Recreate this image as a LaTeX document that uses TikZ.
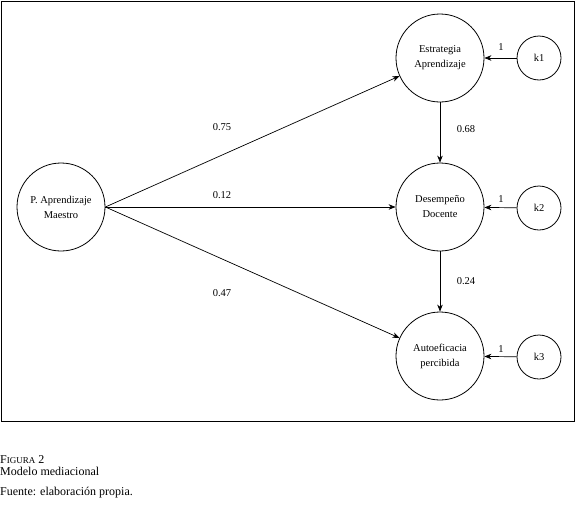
\documentclass[tikz,border=0pt]{standalone}
\usepackage{fontspec}
\setmainfont{Liberation Serif}
\usetikzlibrary{arrows.meta}
\begin{document}
\begin{tikzpicture}[x=1pt,y=-1pt,
  bigc/.style={circle,draw,line width=0.8pt,minimum size=88pt,inner sep=0pt,align=center,font=\fontsize{10.5}{15}\selectfont},
  smallc/.style={circle,draw,line width=0.8pt,minimum size=44pt,inner sep=0pt,font=\fontsize{10.5}{12.5}\selectfont},
  arr/.style={line width=0.7pt,-{Stealth[length=7pt,width=5.5pt]}},
  lbl/.style={font=\fontsize{10.5}{12.5}\selectfont,inner sep=1pt},
  captext/.style={anchor=west,inner sep=0pt,font=\fontsize{12}{14}\selectfont}]
\useasboundingbox (0,0) rectangle (576,517);
\draw[line width=0.8pt] (1,1) rectangle (574,421);
\node[bigc] (p) at (61,207) {P. Aprendizaje\\Maestro};
\node[bigc] (e) at (440,58) {Estrategia\\Aprendizaje};
\node[bigc] (d) at (440,207) {Desempeño\\Docente};
\node[bigc] (a) at (440,356) {Autoeficacia\\percibida};
\node[smallc] (k1) at (539,58) {k1};
\node[smallc] (k2) at (539,208) {k2};
\node[smallc] (k3) at (539,357) {k3};
\draw[arr] (p.east) -- (e);
\draw[arr] (p.east) -- (d.west);
\draw[arr] (p.east) -- (a);
\draw[arr] (e) -- (d);
\draw[arr] (d) -- (a);
\draw[arr] (k1) -- (e);
\draw[arr] (k2) -- (d);
\draw[arr] (k3) -- (a);
\node[lbl] (l1) at (222,127) {0.75};
\node[lbl] (l2) at (222,195) {0.12};
\node[lbl] (l3) at (222,293) {0.47};
\node[lbl] (l4) at (466,129) {0.68};
\node[lbl] (l5) at (466,281) {0.24};
\node[lbl] (o1) at (501,47) {1};
\node[lbl] (o2) at (501,199) {1};
\node[lbl] (o3) at (501,349) {1};
\node[captext] (cap1) at (0,460) {F{\fontsize{9}{14}\selectfont IGURA} 2};
\node[captext] (cap2) at (0,471) {Modelo mediacional};
\node[captext] (cap3) at (0,493) {Fuente: elaboración propia.};
\end{tikzpicture}
\end{document}
